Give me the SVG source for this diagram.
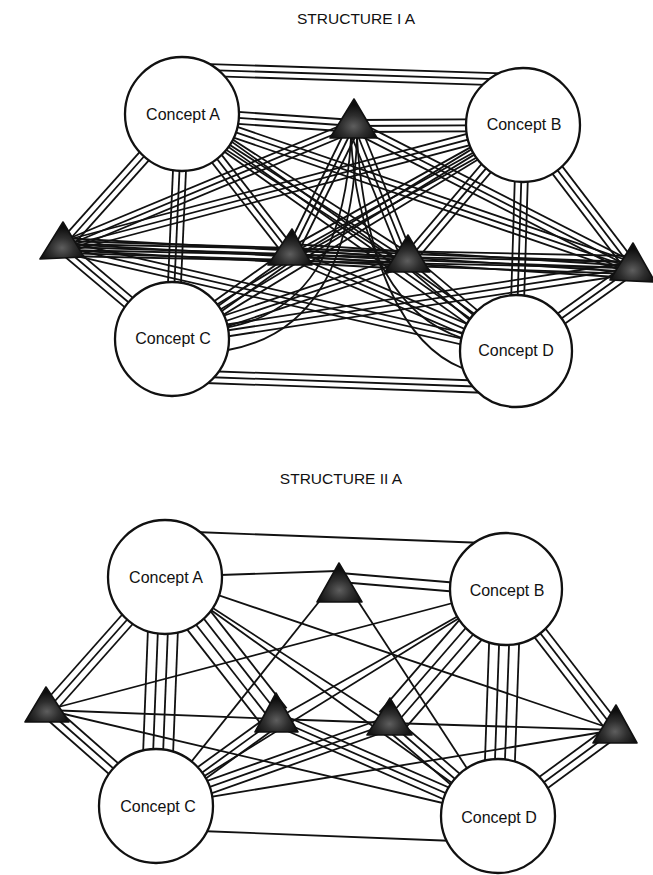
<svg xmlns="http://www.w3.org/2000/svg" xmlns:xlink="http://www.w3.org/1999/xlink" width="653" height="875" viewBox="0 0 653 875">
<style>
.ln{fill:none;stroke:#111;stroke-width:1.8}
.nd{fill:#fff;stroke:#111;stroke-width:2.3}
.tri{fill:url(#tex);stroke:#111;stroke-width:1.6;stroke-linejoin:round}
.lbl{font-family:"Liberation Sans",Arial,sans-serif;font-size:16px;fill:#111;text-anchor:middle}
.ttl{font-family:"Liberation Sans",Arial,sans-serif;font-size:15.5px;fill:#111;text-anchor:middle}
</style>
<defs>
<radialGradient id="tex" cx="50%" cy="70%" r="55%">
<stop offset="0" stop-color="#5e5e5e"/>
<stop offset="0.5" stop-color="#2e2e2e"/>
<stop offset="1" stop-color="#0d0d0d"/>
</radialGradient>
<!-- Structure I A connector spines -->
<g id="tH" class="ln">
<path d="M195,69.6L515,79.8"/>
<path d="M205,377L490,387"/>
<path d="M182,114L354,126"/>
<path d="M182,114L632,268"/>
<path d="M523,125L354,126"/>
<path d="M523,125L63,247"/>
<path d="M172,339L408,260"/>
<path d="M172,339L632,268"/>
<path d="M516,351L63,247"/>
<path d="M516,351L291,254"/>
<path d="M354,126L63,247"/>
<path d="M63,247L291,254"/>
<path d="M63,244L408,263"/>
<path d="M63,250L632,262"/>
<path d="M291,254L408,260"/>
<path d="M291,250L632,272"/>
<path d="M408,260L632,268"/>
</g>
<g id="tV" class="ln">
<path d="M182,114L172,339"/>
<path d="M523,125L516,351"/>
<path d="M354,126L291,254"/>
<path d="M354,126L408,260"/>
</g>
<g id="tDR" class="ln">
<path d="M182,114L516,351"/>
<path d="M182,114L291,254"/>
<path d="M182,114L408,260"/>
<path d="M523,125L632,268"/>
<path d="M63,247L172,339"/>
<path d="M408,260L516,351"/>
<path d="M354,126L632,268"/>
</g>
<g id="tUR" class="ln">
<path d="M63,247L182,114"/>
<path d="M172,339L523,125"/>
<path d="M291,254L523,125"/>
<path d="M408,260L523,125"/>
<path d="M172,339L291,254"/>
<path d="M516,351L632,268"/>
</g>
<!-- Structure II A connector spines -->
<g id="bQV" class="ln">
<path d="M165,577L156,806"/>
<path d="M506,589L498,816"/>
</g>
<g id="bQDR" class="ln">
<path d="M165,577L276,719"/>
</g>
<g id="bQUR" class="ln">
<path d="M390,723L506,589"/>
</g>
<g id="bTH" class="ln">
<path d="M156,806L390,723"/>
<path d="M498,816L276,719"/>
</g>
<g id="bTDR" class="ln">
<path d="M47,710L156,806"/>
<path d="M506,589L615,730"/>
<path d="M390,723L498,816"/>
</g>
<g id="bTUR" class="ln">
<path d="M47,710L165,577"/>
<path d="M498,816L615,730"/>
<path d="M156,806L276,719"/>
</g>
</defs>

<rect width="653" height="875" fill="#fff"/>

<text class="ttl" x="356" y="24">STRUCTURE I A</text>
<text class="ttl" x="341" y="484">STRUCTURE II A</text>

<g id="connectors-1">
<use xlink:href="#tH" transform="translate(0,-6)"/>
<use xlink:href="#tH"/>
<use xlink:href="#tH" transform="translate(0,6)"/>
<use xlink:href="#tV" transform="translate(-6.5,0)"/>
<use xlink:href="#tV"/>
<use xlink:href="#tV" transform="translate(6.5,0)"/>
<use xlink:href="#tDR" transform="translate(4.4,-4.4)"/>
<use xlink:href="#tDR"/>
<use xlink:href="#tDR" transform="translate(-4.4,4.4)"/>
<use xlink:href="#tUR" transform="translate(4.4,4.4)"/>
<use xlink:href="#tUR"/>
<use xlink:href="#tUR" transform="translate(-4.4,-4.4)"/>
<g class="ln">
<path d="M351,138C345,250 305,315 224,328"/>
<path d="M357,138C352,265 312,335 228,350"/>
<path d="M351,138C357,250 400,318 462,338"/>
<path d="M357,138C365,265 405,345 462,368"/>
</g>
</g>

<g id="connectors-2">
<g class="ln">
<path d="M195,532L485,543"/>
<path d="M200,831L455,841"/>
<path d="M220,575L337,571"/>
<path d="M340,573L506,587"/>
<path d="M340,582L506,596"/>
<path d="M165,577L498,816"/>
<path d="M506,589L156,806"/>
<path d="M165,577L390,723"/>
<path d="M165,577L615,730"/>
<path d="M506,589L47,710"/>
<path d="M506,589L276,719"/>
<path d="M322,598L156,806"/>
<path d="M356,598L498,816"/>
<path d="M156,806L615,730"/>
<path d="M498,816L47,710"/>
<path d="M47,710L276,719"/>
<path d="M276,719L390,723"/>
<path d="M390,723L615,730"/>
</g>
<use xlink:href="#bQV" transform="translate(-15,0)"/>
<use xlink:href="#bQV" transform="translate(-5,0)"/>
<use xlink:href="#bQV" transform="translate(5,0)"/>
<use xlink:href="#bQV" transform="translate(15,0)"/>
<use xlink:href="#bQDR" transform="translate(10.6,-10.6)"/>
<use xlink:href="#bQDR" transform="translate(3.5,-3.5)"/>
<use xlink:href="#bQDR" transform="translate(-3.5,3.5)"/>
<use xlink:href="#bQDR" transform="translate(-10.6,10.6)"/>
<use xlink:href="#bQUR" transform="translate(10.6,10.6)"/>
<use xlink:href="#bQUR" transform="translate(3.5,3.5)"/>
<use xlink:href="#bQUR" transform="translate(-3.5,-3.5)"/>
<use xlink:href="#bQUR" transform="translate(-10.6,-10.6)"/>
<use xlink:href="#bTH" transform="translate(0,-7)"/>
<use xlink:href="#bTH"/>
<use xlink:href="#bTH" transform="translate(0,7)"/>
<use xlink:href="#bTDR" transform="translate(5,-5)"/>
<use xlink:href="#bTDR"/>
<use xlink:href="#bTDR" transform="translate(-5,5)"/>
<use xlink:href="#bTUR" transform="translate(5,5)"/>
<use xlink:href="#bTUR"/>
<use xlink:href="#bTUR" transform="translate(-5,-5)"/>
</g>

<!-- Structure I A nodes -->
<g id="s1-concept-a"><circle class="nd" cx="182" cy="114" r="57"/><text class="lbl" x="183" y="120">Concept A</text></g>
<g id="s1-concept-b"><circle class="nd" cx="523" cy="125" r="57"/><text class="lbl" x="524" y="130">Concept B</text></g>
<g id="s1-concept-c"><circle class="nd" cx="172" cy="339" r="57"/><text class="lbl" x="173" y="344">Concept C</text></g>
<g id="s1-concept-d"><circle class="nd" cx="516" cy="351" r="56"/><text class="lbl" x="516" y="356">Concept D</text></g>
<g id="s1-tri-top"><polygon class="tri" points="354,99 330,138 377,138"/></g>
<g id="s1-tri-left"><polygon class="tri" points="63,222 40,259 84,257"/></g>
<g id="s1-tri-inner-left"><polygon class="tri" points="292,229 268,265 312,265"/></g>
<g id="s1-tri-inner-right"><polygon class="tri" points="408,235 385,272 430,272"/></g>
<g id="s1-tri-right"><polygon class="tri" points="633,243 610,280 655,282"/></g>

<!-- Structure II A nodes -->
<g id="s2-concept-a"><circle class="nd" cx="165" cy="577" r="57"/><text class="lbl" x="166" y="583">Concept A</text></g>
<g id="s2-concept-b"><circle class="nd" cx="506" cy="589" r="56"/><text class="lbl" x="507" y="596">Concept B</text></g>
<g id="s2-concept-c"><circle class="nd" cx="156" cy="806" r="57"/><text class="lbl" x="158" y="812">Concept C</text></g>
<g id="s2-concept-d"><circle class="nd" cx="498" cy="816" r="57"/><text class="lbl" x="499" y="823">Concept D</text></g>
<g id="s2-tri-top"><polygon class="tri" points="339,563 317,602 362,602"/></g>
<g id="s2-tri-left"><polygon class="tri" points="46,687 25,722 69,722"/></g>
<g id="s2-tri-inner-left"><polygon class="tri" points="276,693 255,732 298,732"/></g>
<g id="s2-tri-inner-right"><polygon class="tri" points="390,698 367,735 412,735"/></g>
<g id="s2-tri-right"><polygon class="tri" points="616,705 593,743 637,743"/></g>
</svg>
